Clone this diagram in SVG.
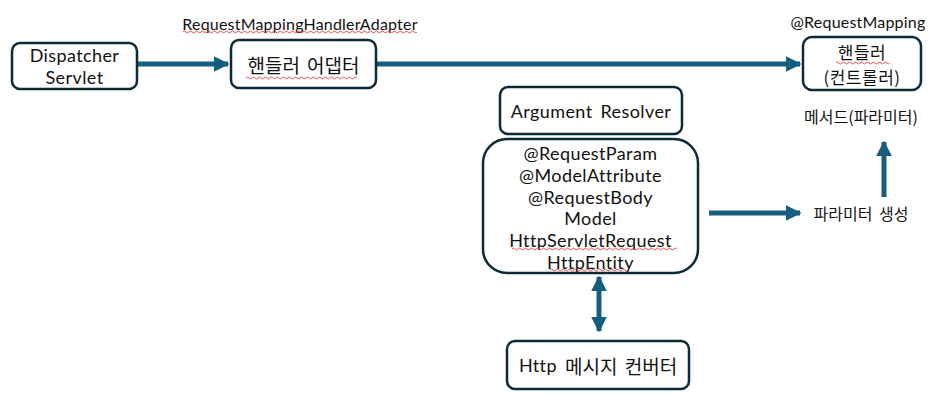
<svg xmlns="http://www.w3.org/2000/svg" width="934" height="396" viewBox="0 0 934 396">
  <style>
    .box { fill: #ffffff; stroke: #0e2a38; stroke-width: 2.5; }
    .t { font-family: Lato, "Noto Sans CJK KR", sans-serif; font-size: 18px; letter-spacing: 0.4px; fill: #111111; text-anchor: middle; dominant-baseline: central; }
    .s { font-size: 16px; letter-spacing: 0.2px; }
    .k { font-family: "Noto Sans CJK KR", sans-serif; font-size: 19px; letter-spacing: 0; }
    .kh { font-family: "Noto Sans CJK KR", sans-serif; font-size: 17px; letter-spacing: 0.5px; }
    .ks { font-family: "Noto Sans CJK KR", sans-serif; font-size: 16px; letter-spacing: 0; }
    .wire { stroke: #175d80; stroke-width: 5; fill: none; }
    .squig { stroke: #e23b3b; stroke-width: 0.9; fill: none; }
  </style>
  <defs>
    <marker id="head" viewBox="0 0 10 10" refX="9" refY="5" markerWidth="3.2" markerHeight="3.2" orient="auto-start-reverse" markerUnits="strokeWidth">
      <path d="M0,0 L10,5 L0,10 z" fill="#175d80"/>
    </marker>
  </defs>

  <rect width="934" height="396" fill="#ffffff"/>

  <g id="connectors">
    <line class="wire" x1="138" y1="64" x2="228" y2="64" marker-end="url(#head)"/>
    <line class="wire" x1="377" y1="64" x2="800" y2="64" marker-end="url(#head)"/>
    <line class="wire" x1="709" y1="213" x2="800" y2="213" marker-end="url(#head)"/>
    <line class="wire" x1="884" y1="197" x2="884" y2="142" marker-end="url(#head)"/>
    <line class="wire" x1="599" y1="277" x2="599" y2="331" marker-start="url(#head)" marker-end="url(#head)"/>
  </g>

  <g id="dispatcher-servlet">
    <rect class="box" x="12" y="43" width="125" height="46" rx="8"/>
    <text class="t" x="74.5" y="55">Dispatcher</text>
    <text class="t" x="74.5" y="77">Servlet</text>
  </g>

  <g id="handler-adapter">
    <text class="t s" x="300" y="23">RequestMappingHandlerAdapter</text>
    <path class="squig" d="M183,32 q1.5,-2 3,0 t3,0 t3,0 t3,0 t3,0 t3,0 t3,0 t3,0 t3,0 t3,0 t3,0 t3,0 t3,0 t3,0 t3,0 t3,0 t3,0 t3,0 t3,0 t3,0 t3,0 t3,0 t3,0 t3,0 t3,0 t3,0 t3,0 t3,0 t3,0 t3,0 t3,0 t3,0 t3,0 t3,0 t3,0 t3,0 t3,0 t3,0 t3,0 t3,0 t3,0 t3,0 t3,0 t3,0 t3,0 t3,0 t3,0 t3,0 t3,0 t3,0 t3,0 t3,0 t3,0 t3,0 t3,0 t3,0 t3,0 t3,0 t3,0 t3,0 t3,0 t3,0 t3,0 t3,0 t3,0 t3,0 t3,0 t3,0 t3,0 t3,0 t3,0 t3,0 t3,0 t3,0 t3,0 t3,0 t3,0 t3,0"/>
    <rect class="box" x="231" y="40" width="145" height="48" rx="8"/>
    <text class="t k" x="303.5" y="64" word-spacing="3">핸들러 어댑터</text>
    <path class="squig" d="M246,78 q1.5,-2 3,0 t3,0 t3,0 t3,0 t3,0 t3,0 t3,0 t3,0 t3,0 t3,0 t3,0 t3,0 t3,0 t3,0 t3,0 t3,0 t3,0 t3,0 t3,0 t3,0 t3,0 t3,0 t3,0 t3,0 t3,0 t3,0 t3,0 t3,0 t3,0 t3,0 t3,0 t3,0 t3,0 t3,0 t3,0 t3,0 t3,0"/>
  </g>

  <g id="handler-controller">
    <text class="t s" x="858" y="21">@RequestMapping</text>
    <rect class="box" x="803" y="37" width="118" height="53" rx="9"/>
    <text class="t kh" x="862" y="51">핸들러</text>
    <path class="squig" d="M836,63 q1.5,-2 3,0 t3,0 t3,0 t3,0 t3,0 t3,0 t3,0 t3,0 t3,0 t3,0 t3,0 t3,0 t3,0 t3,0 t3,0 t3,0 t3,0 t3,0"/>
    <text class="t kh" x="862" y="76">(컨트롤러)</text>
    <text class="t ks" x="861" y="116">메서드(파라미터)</text>
  </g>

  <g id="argument-resolver">
    <rect class="box" x="500" y="87" width="182" height="47" rx="8"/>
    <text class="t" x="591" y="111" word-spacing="3">Argument Resolver</text>
  </g>

  <g id="argument-types">
    <rect class="box" x="483" y="139" width="215" height="134" rx="24"/>
    <text class="t" x="590.5" y="153">@RequestParam</text>
    <text class="t" x="590.5" y="175">@ModelAttribute</text>
    <text class="t" x="590.5" y="197">@RequestBody</text>
    <text class="t" x="590.5" y="218">Model</text>
    <text class="t" x="590.5" y="240">HttpServletRequest</text>
    <path class="squig" d="M512,249 q1.5,-2 3,0 t3,0 t3,0 t3,0 t3,0 t3,0 t3,0 t3,0 t3,0 t3,0 t3,0 t3,0 t3,0 t3,0 t3,0 t3,0 t3,0 t3,0 t3,0 t3,0 t3,0 t3,0 t3,0 t3,0 t3,0 t3,0 t3,0 t3,0 t3,0 t3,0 t3,0 t3,0 t3,0 t3,0 t3,0 t3,0 t3,0 t3,0 t3,0 t3,0 t3,0 t3,0 t3,0 t3,0 t3,0 t3,0 t3,0 t3,0 t3,0 t3,0 t3,0 t3,0 t3,0 t3,0 t3,0"/>
    <text class="t" x="590.5" y="262">HttpEntity</text>
    <path class="squig" d="M550,270 q1.5,-2 3,0 t3,0 t3,0 t3,0 t3,0 t3,0 t3,0 t3,0 t3,0 t3,0 t3,0 t3,0 t3,0 t3,0 t3,0 t3,0 t3,0 t3,0 t3,0 t3,0 t3,0 t3,0 t3,0 t3,0 t3,0 t3,0"/>
  </g>

  <g id="parameter-creation">
    <text class="t ks" x="861" y="213" word-spacing="3">파라미터 생성</text>
  </g>

  <g id="http-message-converter">
    <rect class="box" x="507" y="341" width="182" height="48" rx="8"/>
    <text class="t" x="598" y="365" word-spacing="3">Http <tspan class="k">메시지 컨버터</tspan></text>
  </g>
</svg>
